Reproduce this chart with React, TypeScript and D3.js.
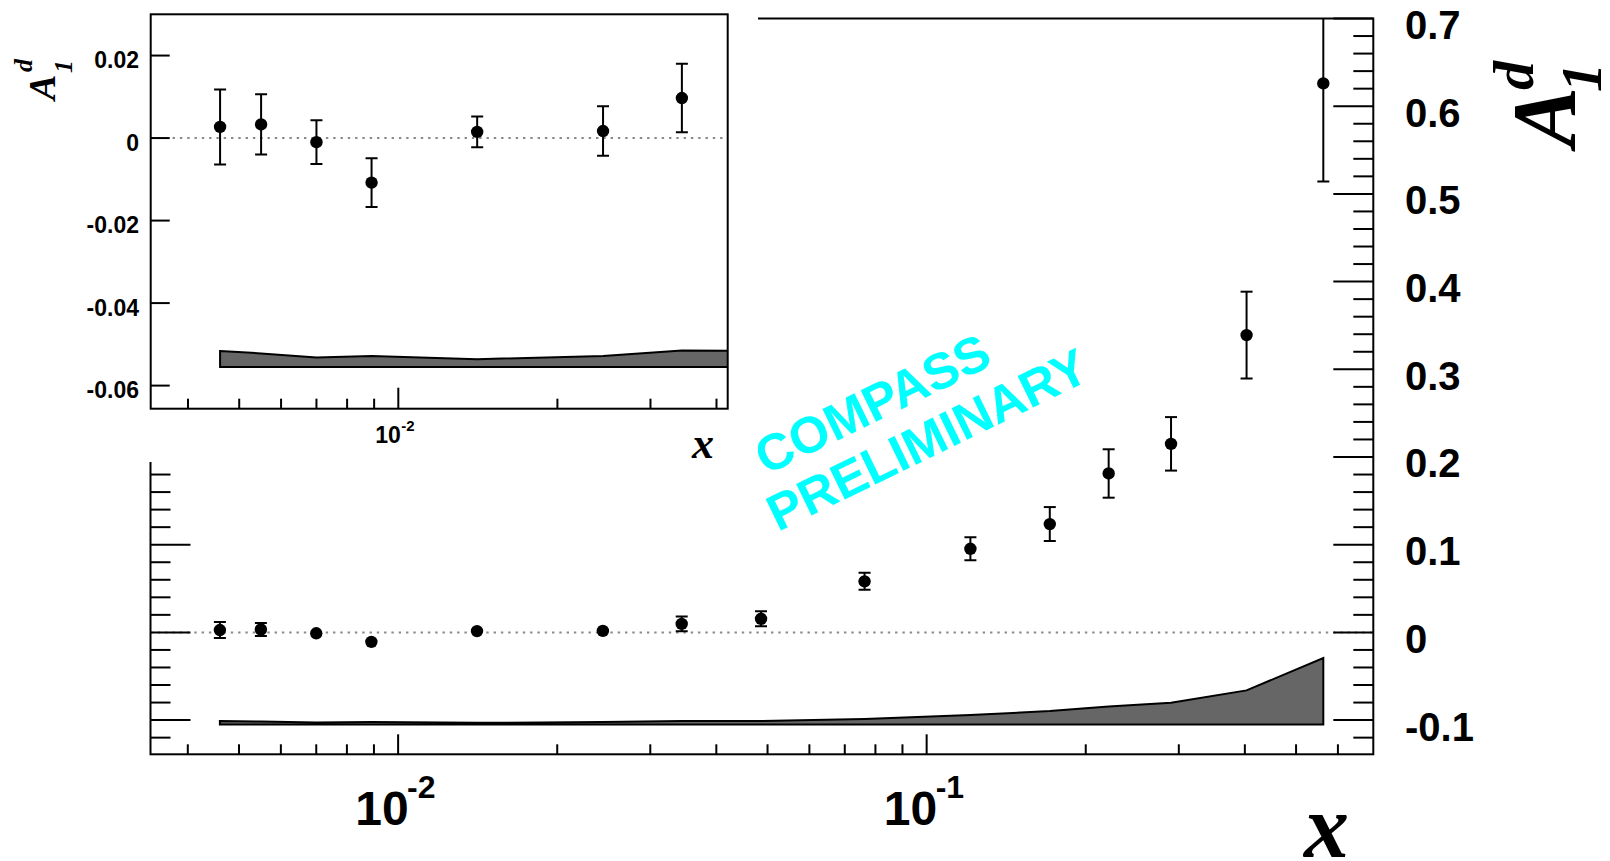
import React from 'react';
import * as d3 from 'd3';

const W = 1610;
const H = 861;

// data
const xVals = [0.0046, 0.0055, 0.007, 0.0089, 0.0141, 0.0244, 0.0344, 0.0486, 0.0763, 0.121, 0.171, 0.221, 0.29, 0.403, 0.563];
const a1Vals = [0.0027, 0.0033, -0.001, -0.0108, 0.0015, 0.0017, 0.0097, 0.0155, 0.0582, 0.0953, 0.1235, 0.1812, 0.215, 0.339, 0.626];
const statErr = [0.0091, 0.0073, 0.0053, 0.0059, 0.0037, 0.006, 0.0083, 0.0085, 0.0097, 0.0131, 0.0194, 0.0276, 0.0305, 0.0495, 0.112];
const sysErr = [0.0039, 0.0033, 0.0023, 0.0027, 0.0019, 0.0027, 0.004, 0.0039, 0.0062, 0.0108, 0.0153, 0.0204, 0.0249, 0.0389, 0.0757];

const mainYLabels = [0.7, 0.6, 0.5, 0.4, 0.3, 0.2, 0.1, 0, -0.1];
const insetYLabels = [0.02, 0, -0.02, -0.04, -0.06];
const xDecades = [0.01, 0.1];
const xDecadeExp = ['-2', '-1'];
const mainBandBase = -0.105;
const insetBandBase = -0.0555;

const SANS = '"Liberation Sans", Arial, Helvetica, sans-serif';
const SERIF = '"Liberation Serif", "Times New Roman", serif';

function logTicks(domain: [number, number]) {
  const out: { v: number; major: boolean }[] = [];
  for (const dec of [0.001, 0.01, 0.1, 1]) {
    for (let k = 1; k <= 9; k++) {
      const v = k * dec;
      if (v >= domain[0] * 1.0001 && v <= domain[1] * 0.9999) out.push({ v, major: k === 1 });
    }
  }
  return out;
}

function fmt(v: number) {
  if (Math.abs(v) < 1e-9) return '0';
  return String(+v.toFixed(2));
}

export default function App() {
  const xMainDom: [number, number] = [0.0034, 0.7];
  const xMain = d3.scaleLog().domain(xMainDom).range([150.5, 1373.3]);
  const yMain = d3.scaleLinear().domain([-0.139, 0.7]).range([754.3, 18.5]);
  const xInsetDom: [number, number] = [0.0034, 0.042];
  const xInset = d3.scaleLog().domain(xInsetDom).range([150.7, 727.7]);
  const yInset = d3.scaleLinear().domain([-0.0656, 0.03]).range([408.7, 14.3]);

  const idx = xVals.map((_, i) => i);

  const bandMain = d3
    .area<number>()
    .x((i) => xMain(xVals[i]))
    .y0(() => yMain(mainBandBase))
    .y1((i) => yMain(mainBandBase + sysErr[i]))(idx) as string;
  const bandInset = d3
    .area<number>()
    .x((i) => xInset(xVals[i]))
    .y0(() => yInset(insetBandBase))
    .y1((i) => yInset(insetBandBase + sysErr[i]))(idx) as string;

  const mainYMinor = d3.range(-6, 36).map((k) => +(k * 0.02).toFixed(2));

  const [mx0, mx1] = xMain.range();
  const [my0, my1] = yMain.range();
  const [ix0, ix1] = xInset.range();
  const [iy0, iy1] = yInset.range();

  const R = 6.2;

  const points = (xs: any, ys: any, keyp: string) =>
    idx.map((i) => {
      const cx = xs(xVals[i]);
      const cy = ys(a1Vals[i]);
      const yt = ys(a1Vals[i] + statErr[i]);
      const yb = ys(a1Vals[i] - statErr[i]);
      const showBar = cy - yt > 6;
      return (
        <g key={keyp + i}>
          {showBar && (
            <g stroke="#000" strokeWidth={2}>
              <line x1={cx} x2={cx} y1={yt} y2={yb} />
              <line x1={cx - 6} x2={cx + 6} y1={yt} y2={yt} />
              <line x1={cx - 6} x2={cx + 6} y1={yb} y2={yb} />
            </g>
          )}
          <circle cx={cx} cy={cy} r={R} fill="#000" />
        </g>
      );
    });

  return (
    <div style={{ position: 'fixed', left: 0, top: 0, width: W, height: H, background: '#fff' }}>
      <svg width={W} height={H} viewBox={`0 0 ${W} ${H}`} style={{ display: 'block' }}>
        <defs>
          <clipPath id="clipMain">
            <rect x={mx0} y={my1} width={mx1 - mx0} height={my0 - my1} />
          </clipPath>
          <clipPath id="clipInset">
            <rect x={ix0} y={iy1} width={ix1 - ix0} height={iy0 - iy1} />
          </clipPath>
        </defs>
        <rect x={0} y={0} width={W} height={H} fill="#fff" />

        {/* ===== main pad ===== */}
        <line x1={mx0} x2={mx1} y1={yMain(0)} y2={yMain(0)} stroke="#8a8a8a" strokeWidth={2} strokeDasharray="2.4 4.9" />
        <path d={bandMain} fill="#666666" stroke="#000" strokeWidth={2} strokeLinejoin="miter" />
        <g clipPath="url(#clipMain)">{points(xMain, yMain, 'm')}</g>

        {/* main frame */}
        <rect x={mx0} y={my1} width={mx1 - mx0} height={my0 - my1} fill="none" stroke="#000" strokeWidth={2} />
        {/* main x ticks */}
        {logTicks(xMainDom).map((t, i) => (
          <line key={'mxt' + i} x1={xMain(t.v)} x2={xMain(t.v)} y1={my0} y2={my0 - (t.major ? 20 : 10)} stroke="#000" strokeWidth={2} />
        ))}
        {/* main y ticks (both sides) */}
        {mainYMinor.map((v, i) => {
          const major = Math.abs(Math.round(v * 10) - v * 10) < 1e-6;
          const len = major ? 40 : 20;
          const y = yMain(v);
          return (
            <g key={'myt' + i} stroke="#000" strokeWidth={2}>
              <line x1={mx0} x2={mx0 + len} y1={y} y2={y} />
              <line x1={mx1} x2={mx1 - len} y1={y} y2={y} />
            </g>
          );
        })}
        {/* main y labels on the right */}
        {mainYLabels.map((v, i) => (
          <text key={'myl' + i} x={1405} y={yMain(v) + 20.5} fontFamily={SANS} fontWeight="bold" fontSize={40} fill="#000">
            {fmt(v)}
          </text>
        ))}
        {/* main x labels */}
        {xDecades.map((v, i) => (
          <g key={'mxl' + i} fontFamily={SANS} fontWeight="bold" fill="#000">
            <text x={xMain(v) + 10.6} y={825} fontSize={48} textAnchor="end">10</text>
            <text x={xMain(v) + 9} y={798} fontSize={32} textAnchor="start">{xDecadeExp[i]}</text>
          </g>
        ))}
        {/* main axis titles */}
        <text x={1349} y={857} textAnchor="end" fontFamily={SERIF} fontStyle="italic" fontWeight="bold" fontSize={90} fill="#000">x</text>
        <g transform="translate(1575,147) rotate(-90)" fontFamily={SERIF} fontStyle="italic" fontWeight="bold" fill="#000">
          <text x={0} y={0} fontSize={90}>A</text>
          <text x={57} y={-41.7} fontSize={58}>d</text>
          <text x={55} y={26.3} fontSize={58}>1</text>
        </g>

        {/* watermark */}
        <g fontFamily={SANS} fontWeight="bold" fontSize={51} fill="#00ffff">
          <text transform="translate(766,475.5) rotate(-26)" x={0} y={0}>COMPASS</text>
          <text transform="translate(778,532) rotate(-26)" x={0} y={0}>PRELIMINARY</text>
        </g>

        {/* ===== inset pad ===== */}
        <rect x={0} y={0} width={758} height={462} fill="#fff" />
        <line x1={ix0} x2={ix1} y1={yInset(0)} y2={yInset(0)} stroke="#8a8a8a" strokeWidth={2} strokeDasharray="2.4 4.9" />
        <g clipPath="url(#clipInset)">
          <path d={bandInset} fill="#666666" stroke="#000" strokeWidth={2} />
          {points(xInset, yInset, 'i')}
        </g>
        <rect x={ix0} y={iy1} width={ix1 - ix0} height={iy0 - iy1} fill="none" stroke="#000" strokeWidth={2} />
        {logTicks(xInsetDom).map((t, i) => (
          <line key={'ixt' + i} x1={xInset(t.v)} x2={xInset(t.v)} y1={iy0} y2={iy0 - (t.major ? 21 : 10)} stroke="#000" strokeWidth={2} />
        ))}
        {insetYLabels.map((v, i) => (
          <g key={'iyl' + i}>
            <line x1={ix0} x2={ix0 + 19} y1={yInset(v)} y2={yInset(v)} stroke="#000" strokeWidth={2} />
            <text x={139} y={yInset(v) + 12.5} textAnchor="end" fontFamily={SANS} fontWeight="bold" fontSize={23} fill="#000">
              {fmt(v)}
            </text>
          </g>
        ))}
        <g fontFamily={SANS} fontWeight="bold" fill="#000">
          <text x={xInset(0.01) + 2.5} y={442.7} fontSize={23} textAnchor="end">10</text>
          <text x={xInset(0.01) + 3} y={431} fontSize={15} textAnchor="start">-2</text>
        </g>
        <text x={714} y={458} textAnchor="end" fontFamily={SERIF} fontStyle="italic" fontWeight="bold" fontSize={44} fill="#000">x</text>
        <g transform="translate(55,100) rotate(-90)" fontFamily={SERIF} fontStyle="italic" fontWeight="bold" fill="#000">
          <text x={0} y={0} fontSize={38}>A</text>
          <text x={28} y={-23.3} fontSize={26}>d</text>
          <text x={27} y={16.7} fontSize={26}>1</text>
        </g>
      </svg>
    </div>
  );
}
